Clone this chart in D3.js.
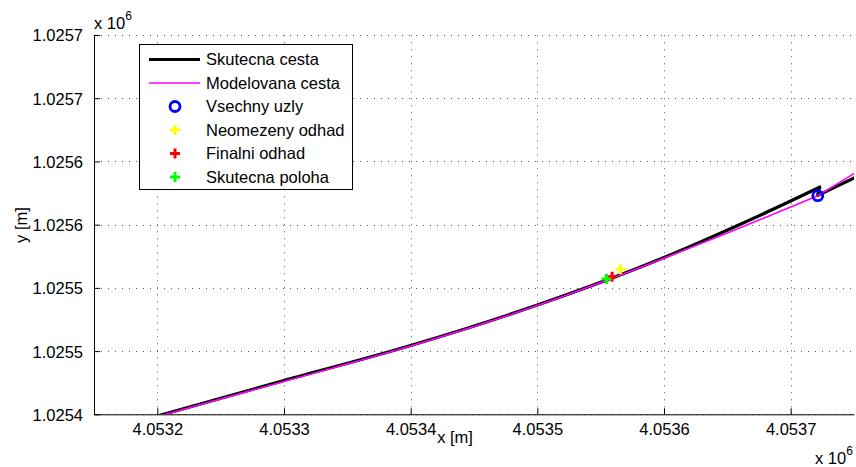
<!DOCTYPE html>
<html><head><meta charset="utf-8">
<script src="https://cdn.jsdelivr.net/npm/d3@7"></script>
<style>
body{margin:0;background:#fff;}
text{font-family:"Liberation Sans",Arial,Helvetica,sans-serif;fill:#000;}
</style></head>
<body><svg id="c" width="856" height="467"></svg>
<script>
// ---- data (meters) ----
// true path: main smooth part, then a short jog back to the node and onward
const skutX = [4053200, 4053300, 4053400, 4053500, 4053600, 4053652, 4053700, 4053722.8];
const skutY = [1025398.6, 1025426.7, 1025454.4, 1025486.4, 1025524.0, 1025546.6, 1025568.7, 1025579.6];
const skutTailX = [4053722.8, 4053721.2, 4053751];
const skutTailY = [1025579.6, 1025573.0, 1025587.3];
const modX = [4053200, 4053300, 4053400, 4053500, 4053600, 4053652, 4053700, 4053721.4];
const modY = [1025398.2, 1025426.0, 1025454.0, 1025486.0, 1025523.4, 1025544.2, 1025564.0, 1025572.9];
const modTailX = [4053721.4, 4053751];
const modTailY = [1025572.9, 1025591.0];
const uzlyX = [4053721.4];
const uzlyY = [1025572.9];
const neomX = [4053565.7], neomY = [1025514.7];
const finX = [4053559.0], finY = [1025508.8];
const polX = [4053554.6], polY = [1025507.0];
const xTicks = [4053200, 4053300, 4053400, 4053500, 4053600, 4053700];
const xTickLabels = ["4.0532", "4.0533", "4.0534", "4.0535", "4.0536", "4.0537"];
const yTicks = [1025400, 1025450, 1025500, 1025550, 1025600, 1025650, 1025700];
const yTickLabels = ["1.0254", "1.0255", "1.0255", "1.0256", "1.0256", "1.0257", "1.0257"];
const legendLabels = ["Skutecna cesta", "Modelovana cesta", "Vsechny uzly", "Neomezeny odhad", "Finalni odhad", "Skutecna poloha"];

// ---- layout ----
const L = 94, R = 854, T = 35, B = 414.3;
const FS = 16.5;
const svg = d3.select("#c");
const x = d3.scaleLinear().domain([4053150, 4053750]).range([L, R]);
const y = d3.scaleLinear().domain([1025400, 1025700]).range([B, T]);

svg.append("defs").append("clipPath").attr("id", "clip")
  .append("rect").attr("x", L).attr("y", T).attr("width", R - L).attr("height", B - T);

// grid
const grid = svg.append("g").attr("stroke", "#555").attr("stroke-width", 1).attr("stroke-dasharray", "1,6");
grid.selectAll(".gx").data(xTicks).enter().append("line")
  .attr("x1", d => Math.round(x(d)) + 0.5).attr("x2", d => Math.round(x(d)) + 0.5)
  .attr("y1", B).attr("y2", T);
grid.selectAll(".gy").data(yTicks).enter().append("line")
  .attr("y1", d => Math.round(y(d)) + 0.5).attr("y2", d => Math.round(y(d)) + 0.5)
  .attr("x1", L).attr("x2", R);

// axes
const xAxis = d3.axisBottom(x).tickValues(xTicks).tickFormat((d, i) => xTickLabels[i]).tickSizeInner(-6).tickSizeOuter(0).tickPadding(9);
const gx = svg.append("g").attr("transform", `translate(0,${B})`).call(xAxis);
const yAxis = d3.axisLeft(y).tickValues(yTicks).tickFormat((d, i) => yTickLabels[i]).tickSizeInner(-6).tickSizeOuter(0).tickPadding(11);
const gy = svg.append("g").attr("transform", `translate(${L},0)`).call(yAxis);
[gx, gy].forEach(g => {
  g.select(".domain").attr("stroke", "#000").attr("stroke-width", 1);
  g.selectAll(".tick line").attr("stroke", "#000");
  g.selectAll("text").style("font-size", FS + "px").attr("fill", "#000")
    .style("font-family", '"Liberation Sans",Arial,sans-serif');
});
gy.selectAll("text").attr("dy", "0.36em");

// lines
const plot = svg.append("g").attr("clip-path", "url(#clip)");
const smooth = d3.line().x(d => x(d[0])).y(d => y(d[1])).curve(d3.curveMonotoneX);
const line = d3.line().x(d => x(d[0])).y(d => y(d[1]));
const zip = (a, b) => a.map((v, i) => [v, b[i]]);
plot.append("path").datum(zip(skutX, skutY))
  .attr("d", smooth).attr("fill", "none").attr("stroke", "#000").attr("stroke-width", 3.2).attr("stroke-linecap", "square");
plot.append("path").datum(zip(skutTailX, skutTailY))
  .attr("d", line).attr("fill", "none").attr("stroke", "#000").attr("stroke-width", 3.2).attr("stroke-linejoin", "round");
plot.append("path").datum(zip(modX, modY))
  .attr("d", smooth).attr("fill", "none").attr("stroke", "#ff00ff").attr("stroke-width", 1.6);
plot.append("path").datum(zip(modTailX, modTailY))
  .attr("d", line).attr("fill", "none").attr("stroke", "#ff00ff").attr("stroke-width", 1.6);

function plus(g, cx, cy, color) {
  const s = 5;
  g.append("path").attr("d", `M${cx - s},${cy}H${cx + s}M${cx},${cy - s}V${cy + s}`)
    .attr("stroke", color).attr("stroke-width", 3).attr("fill", "none");
}
uzlyX.forEach((v, i) => plot.append("circle").attr("cx", x(v)).attr("cy", y(uzlyY[i])).attr("r", 5)
  .attr("fill", "none").attr("stroke", "#0000ff").attr("stroke-width", 2.8));
neomX.forEach((v, i) => plus(plot, x(v), y(neomY[i]), "#ffff00"));
finX.forEach((v, i) => plus(plot, x(v), y(finY[i]), "#ff0000"));
polX.forEach((v, i) => plus(plot, x(v), y(polY[i]), "#00ff00"));

// labels
svg.append("text").attr("x", 455).attr("y", 443).attr("text-anchor", "middle").style("font-size", FS + "px").text("x [m]");
svg.append("text").attr("transform", "translate(27,225) rotate(-90)").attr("text-anchor", "middle").style("font-size", FS + "px").text("y [m]");
// exponent labels
const e1 = svg.append("text").attr("x", 94).attr("y", 29).style("font-size", FS + "px");
e1.append("tspan").text("x 10");
e1.append("tspan").attr("dy", -9).style("font-size", "12px").text("6");
const e2 = svg.append("text").attr("x", 815).attr("y", 464).style("font-size", FS + "px");
e2.append("tspan").text("x 10");
e2.append("tspan").attr("dy", -9).style("font-size", "12px").text("6");

// legend
const lg = svg.append("g");
lg.append("rect").attr("x", 139.5).attr("y", 44.5).attr("width", 213).attr("height", 145)
  .attr("fill", "#fff").attr("stroke", "#000").attr("stroke-width", 1);
const ly0 = 59.5, ldy = 23.5;
legendLabels.forEach((t, i) => {
  lg.append("text").attr("x", 206).attr("y", ly0 + i * ldy).attr("dy", "0.36em").style("font-size", FS + "px").text(t);
});
lg.append("line").attr("x1", 149).attr("x2", 200).attr("y1", ly0).attr("y2", ly0).attr("stroke", "#000").attr("stroke-width", 3.2);
lg.append("line").attr("x1", 149).attr("x2", 200).attr("y1", ly0 + ldy).attr("y2", ly0 + ldy).attr("stroke", "#ff00ff").attr("stroke-width", 1.6);
lg.append("circle").attr("cx", 175).attr("cy", ly0 + 2 * ldy).attr("r", 5).attr("fill", "none").attr("stroke", "#0000ff").attr("stroke-width", 2.8);
plus(lg, 175, ly0 + 3 * ldy, "#ffff00");
plus(lg, 175, ly0 + 4 * ldy, "#ff0000");
plus(lg, 175, ly0 + 5 * ldy, "#00ff00");
</script></body></html>
